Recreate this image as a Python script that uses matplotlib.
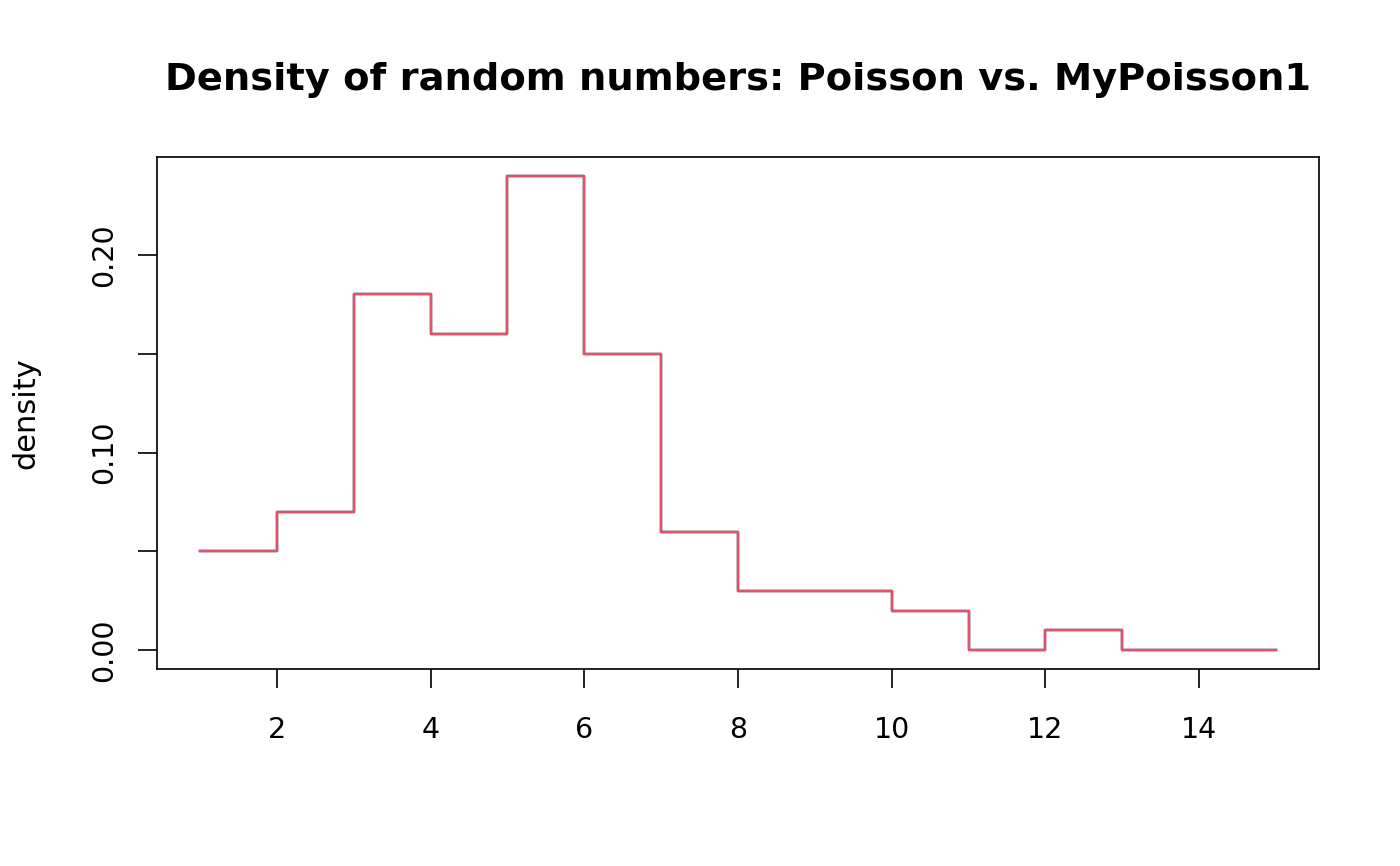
import matplotlib
matplotlib.use("Agg")
import matplotlib.pyplot as plt

# values at x = 1..15 (step plot, post)
x_vals = list(range(1, 16))
poisson = [0.05, 0.07, 0.18, 0.16, 0.24, 0.15, 0.06, 0.03, 0.03, 0.02, 0.00, 0.01, 0.00, 0.00, 0.00]
mypoisson1 = [0.05, 0.07, 0.18, 0.16, 0.24, 0.15, 0.06, 0.03, 0.03, 0.02, 0.00, 0.01, 0.00, 0.00, 0.00]

x_ticks = [2, 4, 6, 8, 10, 12, 14]
y_ticks = [0.00, 0.05, 0.10, 0.15, 0.20]
y_ticklabels = ["0.00", "", "0.10", "", "0.20"]

plt.rcParams["font.family"] = ["DejaVu Sans"]

fig = plt.figure(figsize=(14, 8.66), dpi=100)
ax = fig.add_axes([157 / 1400, 1 - 669 / 866, (1319 - 157) / 1400, (669 - 157) / 866])

# black Poisson line lies under the red MyPoisson1 line
ax.plot(x_vals, poisson, drawstyle="steps-post", color="black", lw=1.7)
ax.plot(x_vals, mypoisson1, drawstyle="steps-post", color="#DF536B", lw=1.7)

ax.set_xlim(0.44, 15.56)
ax.set_ylim(-0.0096, 0.2496)
ax.set_xticks(x_ticks)
ax.set_xticklabels([str(t) for t in x_ticks])
ax.set_yticks(y_ticks)
ax.set_yticklabels(y_ticklabels, rotation=90, va="center")

ax.tick_params(axis="both", direction="out", length=14, width=1.2, labelsize=20.5, color="black")
ax.tick_params(axis="x", pad=20)
ax.tick_params(axis="y", pad=14)
for s in ax.spines.values():
    s.set_linewidth(1.2)
    s.set_color("black")

ax.set_ylabel("density", fontsize=22, labelpad=36)
fig.text(738 / 1400, 1 - 80 / 866, "Density of random numbers: Poisson vs. MyPoisson1",
         ha="center", va="center", fontsize=27.6, fontweight="bold")

fig.savefig("out.png", dpi=100)
